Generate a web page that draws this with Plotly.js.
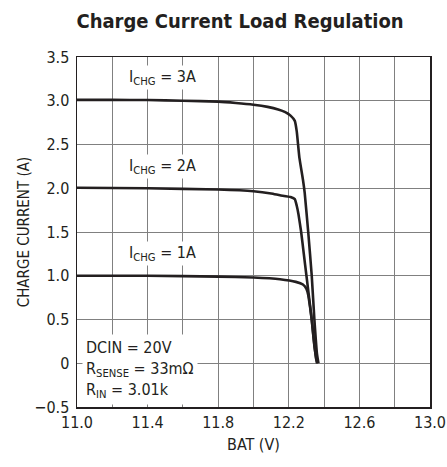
<!DOCTYPE html>
<html>
<head>
<meta charset="utf-8">
<script src="https://cdn.plot.ly/plotly-3.0.1.min.js"></script>
<style>html,body{margin:0;padding:0;background:#fff;}</style>
</head>
<body>
<div id="chart" style="width:447px;height:467px;"></div>
<script>
// BAT voltage (V) and charge current (A) for each ICHG setting
const bat3A = [11.0, 11.2, 11.4, 11.6, 11.8, 11.9, 12.0, 12.08, 12.14, 12.18, 12.21, 12.234, 12.245, 12.26, 12.28, 12.29, 12.31, 12.33, 12.345, 12.36, 12.368];
const cur3A = [3.01, 3.01, 3.008, 3.0, 2.99, 2.975, 2.955, 2.93, 2.9, 2.87, 2.83, 2.77, 2.65, 2.35, 2.1, 1.95, 1.5, 1.0, 0.5, 0.1, 0.0];

const bat2A = [11.0, 11.4, 11.8, 12.0, 12.1, 12.15, 12.21, 12.234, 12.245, 12.255, 12.27, 12.285, 12.3, 12.315, 12.33, 12.345, 12.36];
const cur2A = [2.005, 2.0, 1.985, 1.965, 1.94, 1.92, 1.9, 1.875, 1.8, 1.7, 1.5, 1.25, 1.0, 0.75, 0.5, 0.2, 0.0];

const bat1A = [11.0, 11.4, 11.8, 12.0, 12.15, 12.24, 12.28, 12.3, 12.31, 12.32, 12.33, 12.34, 12.355, 12.362];
const cur1A = [1.0, 1.0, 0.99, 0.98, 0.96, 0.93, 0.9, 0.85, 0.78, 0.65, 0.5, 0.3, 0.05, 0.0];

const xTickVals = [11.0, 11.4, 11.8, 12.2, 12.6, 13.0];
const xTickText = ['11.0', '11.4', '11.8', '12.2', '12.6', '13.0'];
const yTickVals = [-0.5, 0, 0.5, 1.0, 1.5, 2.0, 2.5, 3.0, 3.5];
const yTickText = ['\u22120.5', '0', '0.5', '1.0', '1.5', '2.0', '2.5', '3.0', '3.5'];

const FONT = '"DejaVu Sans Condensed", "Liberation Sans Narrow", sans-serif';
const lineStyle = {color: '#231f20', width: 2.6, shape: 'spline', smoothing: 0.4};

const traces = [
  {x: bat3A, y: cur3A, mode: 'lines', line: lineStyle, hoverinfo: 'skip'},
  {x: bat2A, y: cur2A, mode: 'lines', line: lineStyle, hoverinfo: 'skip'},
  {x: bat1A, y: cur1A, mode: 'lines', line: lineStyle, hoverinfo: 'skip'}
];

const annFont = {family: FONT, size: 16, color: '#231f20'};
const layout = {
  width: 447, height: 467,
  margin: {l: 77, r: 17, t: 57, b: 60},
  paper_bgcolor: '#fff', plot_bgcolor: '#fff',
  showlegend: false,
  font: {family: FONT, color: '#231f20'},
  title: {text: '<b>Charge Current Load Regulation</b>', font: {family: FONT, size: 20, color: '#231f20'}, x: 0.537, xanchor: 'center', y: 0.955, yanchor: 'middle'},
  xaxis: {
    range: [11.0, 13.0], tickvals: xTickVals, ticktext: xTickText,
    showgrid: true, gridcolor: '#808080', gridwidth: 1,
    minor: {dtick: 0.2, tick0: 11.0, showgrid: true, gridcolor: '#808080', gridwidth: 1, ticks: ''},
    showline: true, mirror: true, linecolor: '#231f20', linewidth: 1.5,
    ticks: '', zeroline: false, tickfont: {family: FONT, size: 16, color: '#231f20'},
    title: {text: 'BAT (V)', font: {family: FONT, size: 16, color: '#231f20'}, standoff: 8}
  },
  yaxis: {
    range: [-0.5, 3.5], tickvals: yTickVals, ticktext: yTickText,
    showgrid: true, gridcolor: '#808080', gridwidth: 1,
    showline: true, mirror: true, linecolor: '#231f20', linewidth: 1.5,
    ticks: '', ticklabelstandoff: 3, zeroline: false, tickfont: {family: FONT, size: 16, color: '#231f20'},
    title: {text: 'CHARGE CURRENT (A)', font: {family: FONT, size: 15, color: '#231f20'}, standoff: 1}
  },
  annotations: [
    {x: 11.285, y: 3.27, xref: 'x', yref: 'y', xanchor: 'left', yanchor: 'middle', showarrow: false, text: 'I<sub>CHG</sub> = 3A', font: annFont, bgcolor: '#fff'},
    {x: 11.285, y: 2.243, xref: 'x', yref: 'y', xanchor: 'left', yanchor: 'middle', showarrow: false, text: 'I<sub>CHG</sub> = 2A', font: annFont, bgcolor: '#fff'},
    {x: 11.285, y: 1.249, xref: 'x', yref: 'y', xanchor: 'left', yanchor: 'middle', showarrow: false, text: 'I<sub>CHG</sub> = 1A', font: annFont, bgcolor: '#fff'},
    {x: 11.03, y: 0.34, xref: 'x', yref: 'y', xanchor: 'left', yanchor: 'top', showarrow: false, align: 'left',
     text: 'DCIN = 20V<br>R<sub>SENSE</sub> = 33m\u03A9<br>R<sub>IN</sub> = 3.01k', font: annFont, bgcolor: '#fff', borderpad: 3}
  ]
};

Plotly.newPlot('chart', traces, layout, {staticPlot: true, displayModeBar: false});
</script>
</body>
</html>
